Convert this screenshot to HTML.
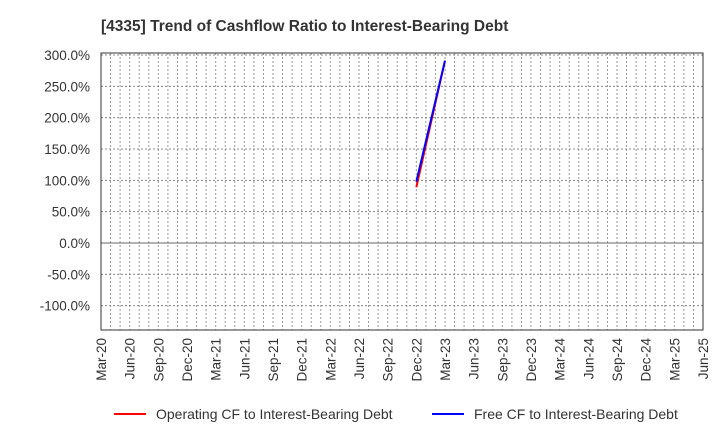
<!DOCTYPE html>
<html><head><meta charset="utf-8"><style>
body{margin:0;background:#fff;font-family:"Liberation Sans",sans-serif}
svg text{font-family:"Liberation Sans",sans-serif;fill:#333}
</style></head><body>
<svg id="c" width="720" height="440">
<text x="101" y="31" text-anchor="start" font-size="15.5" font-weight="bold">[4335]  Trend of Cashflow Ratio to Interest-Bearing Debt</text>
<g id="grid"></g><g id="axes"></g><g id="series"></g>
<g>
<line x1="114" y1="414" x2="146" y2="414" stroke="#f00" stroke-width="2"/>
<text x="156" y="419" font-size="14">Operating CF to Interest-Bearing Debt</text>
<line x1="432" y1="414" x2="464" y2="414" stroke="#00f" stroke-width="2"/>
<text x="474" y="419" font-size="14">Free CF to Interest-Bearing Debt</text>
</g>
</svg>
<script>
const yTicks=[300,250,200,150,100,50,0,-50,-100];
const xLabels=["Mar-20","Jun-20","Sep-20","Dec-20","Mar-21","Jun-21","Sep-21","Dec-21","Mar-22","Jun-22","Sep-22","Dec-22","Mar-23","Jun-23","Sep-23","Dec-23","Mar-24","Jun-24","Sep-24","Dec-24","Mar-25","Jun-25"];
const opMonths=[33,36];
const opValues=[89,291];
const freeMonths=[33,36];
const freeValues=[98,291];
const L=101,R=703,T=53,B=330,NM=63;
const x=m=>L+m*(R-L)/NM;
const y=v=>243-v*0.6266;
const ns="http://www.w3.org/2000/svg";
function mk(tag,attrs,parent,txt){const e=document.createElementNS(ns,tag);for(const k in attrs)e.setAttribute(k,attrs[k]);if(txt!=null)e.textContent=txt;document.getElementById(parent).appendChild(e);return e;}
for(let m=1;m<NM;m++){const e=mk('line',{x1:x(m),x2:x(m),y1:T,y2:B,stroke:'#999','stroke-dasharray':'2,2','stroke-width':1},'grid');

}
yTicks.forEach(v=>{const g=mk('line',{x1:L,x2:R,y1:y(v),y2:y(v),stroke:v===0?'#666':'#888','stroke-dasharray':v===0?'':'2,2','stroke-width':1},'grid');


const t=mk('text',{x:90,y:y(v)+5,'text-anchor':'end','font-size':13.5},'axes',v.toFixed(1)+'%');

});
xLabels.forEach((s,i)=>{const px=x(i*3);const t=mk('text',{x:0,y:0,'text-anchor':'end','font-size':13.5,transform:`translate(${px+5},338) rotate(-90)`},'axes',s);

});
const f=mk('rect',{x:L,y:T,width:R-L,height:B-T,fill:'none',stroke:'#333','stroke-width':1},'axes');


const p1=mk('polyline',{points:opMonths.map((m,i)=>x(m)+','+y(opValues[i])).join(' '),fill:'none',stroke:'#f00','stroke-width':2},'series');


const p2=mk('polyline',{points:freeMonths.map((m,i)=>x(m)+','+y(freeValues[i])).join(' '),fill:'none',stroke:'#00f','stroke-width':2},'series');


</script>
</body></html>
